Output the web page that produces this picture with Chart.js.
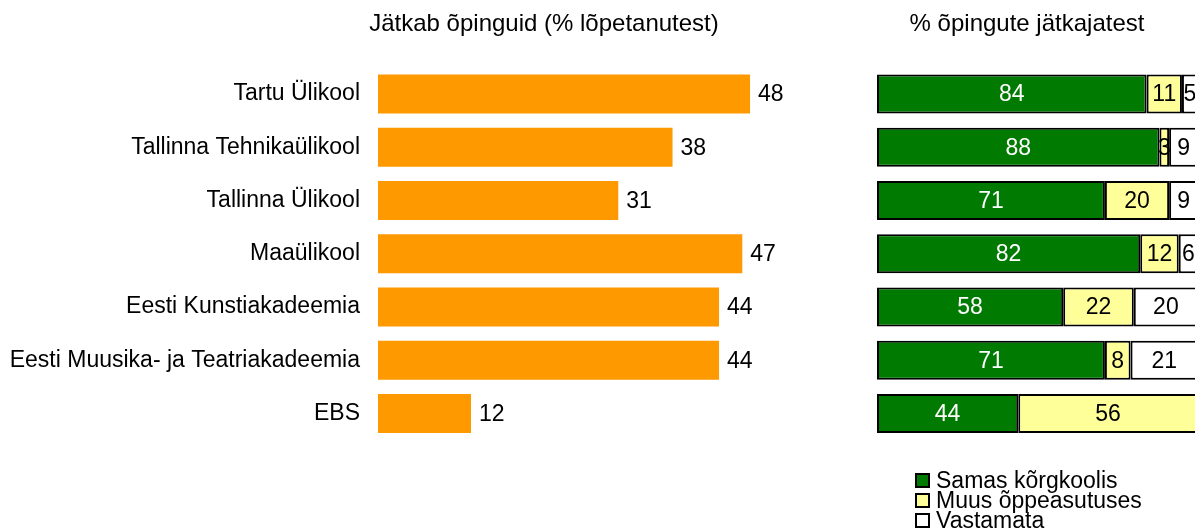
<!DOCTYPE html>
<html lang="et">
<head>
<meta charset="utf-8">
<title>Õpingute jätkamine</title>
<script src="https://cdn.jsdelivr.net/npm/chart.js@4.4.0/dist/chart.umd.min.js"></script>
<style>
  html, body { margin: 0; padding: 0; background: #fff; }
  #leht { position: relative; width: 1195px; height: 532px; overflow: hidden; font-family: "Liberation Sans", Arial, sans-serif; }
  #vasak { position: absolute; left: 0; top: 0; width: 1088px; height: 532px; }
  #parem { position: absolute; left: 856px; top: 0; width: 342px; height: 532px; }
  #legend { position: absolute; left: 915px; top: 470px; }
  #legend ul { list-style: none; margin: 0; padding: 0; }
  #legend li { display: flex; align-items: center; height: 20px; font-size: 23px; color: #000; white-space: nowrap; }
  #legend li span { display: inline-block; width: 11px; height: 11px; border: 2px solid #000; margin-right: 6px; }
</style>
</head>
<body>
<div id="leht">
  <div id="vasak"><canvas id="graafikJatkab"></canvas></div>
  <div id="parem"><canvas id="graafikKus"></canvas></div>
  <div id="legend"></div>
</div>
<script>
// ====================================================================
// ANDMED
// ====================================================================
const korgkoolid = [
    'Tartu Ülikool',
    'Tallinna Tehnikaülikool',
    'Tallinna Ülikool',
    'Maaülikool',
    'Eesti Kunstiakadeemia',
    'Eesti Muusika- ja Teatriakadeemia',
    'EBS'
];

// Jätkab õpinguid (% lõpetanutest)
const jatkab = [48, 38, 31, 47, 44, 44, 12];

// % õpingute jätkajatest
const samasKorgkoolis = [84, 88, 71, 82, 58, 71, 44];
const muusOppeasutuses = [11, 3, 20, 12, 22, 8, 56];
const vastamata = [5, 9, 9, 6, 20, 21, 0];

const FONT = '"Liberation Sans", Arial, sans-serif';
Chart.defaults.font.family = FONT;
Chart.defaults.color = '#000';

// Väärtuste kirjutamine tulpadele (datalabels pluginat pole)
const vaartusedPlugin = {
    id: 'vaartused',
    afterDatasetsDraw(chart) {
        const ctx = chart.ctx;
        ctx.save();
        ctx.font = '23px ' + FONT;
        ctx.textBaseline = 'middle';
        chart.data.datasets.forEach((ds, i) => {
            const meta = chart.getDatasetMeta(i);
            if (meta.hidden) return;
            meta.data.forEach((bar, j) => {
                const v = ds.data[j];
                if (!v) return;
                ctx.fillStyle = ds.sildiVarv || '#000';
                if (ds.siltKeskel) {
                    ctx.textAlign = 'center';
                    ctx.fillText(v, (bar.x + bar.base) / 2, bar.y + 1);
                } else {
                    ctx.textAlign = 'left';
                    ctx.fillText(v, bar.x + 8, bar.y + 1);
                }
            });
        });
        ctx.restore();
    }
};

// HTML legend parema graafiku jaoks
const htmlLegendPlugin = {
    id: 'htmlLegend',
    afterUpdate(chart) {
        const konteiner = document.getElementById('legend');
        konteiner.innerHTML = '';
        const ul = document.createElement('ul');
        const items = chart.options.plugins.legend.labels.generateLabels(chart);
        items.forEach(item => {
            const li = document.createElement('li');
            const kast = document.createElement('span');
            kast.style.background = item.fillStyle;
            li.appendChild(kast);
            li.appendChild(document.createTextNode(item.text));
            ul.appendChild(li);
        });
        konteiner.appendChild(ul);
    }
};

function pealkiri(tekst) {
    return {
        display: true,
        text: tekst,
        color: '#000',
        font: { size: 24, weight: 'normal' },
        padding: { top: 10, bottom: 28.6 }
    };
}

// ====================================================================
// VASAK GRAAFIK - Jätkab õpinguid
// ====================================================================
new Chart(document.getElementById('graafikJatkab'), {
    type: 'bar',
    data: {
        labels: korgkoolid,
        datasets: [{
            label: 'Jätkab õpinguid',
            data: jatkab,
            backgroundColor: '#FF9900',
            borderWidth: 0,
            categoryPercentage: 0.733,
            barPercentage: 1
        }]
    },
    options: {
        indexAxis: 'y',
        responsive: true,
        maintainAspectRatio: false,
        animation: false,
        layout: { padding: { left: 0, right: 0, top: 0, bottom: 92 } },
        plugins: {
            legend: { display: false },
            tooltip: { enabled: false },
            title: pealkiri('Jätkab õpinguid (% lõpetanutest)')
        },
        scales: {
            x: { display: false, min: 0, max: 91.6 },
            y: {
                grid: { display: false },
                border: { display: false },
                ticks: { padding: 10, color: '#000', font: { size: 23 } },
                afterFit(scale) { scale.width = 378; }
            }
        }
    },
    plugins: [vaartusedPlugin]
});

// ====================================================================
// PAREM GRAAFIK - % õpingute jätkajatest
// ====================================================================
new Chart(document.getElementById('graafikKus'), {
    type: 'bar',
    data: {
        labels: korgkoolid,
        datasets: [
            {
                label: 'Samas kõrgkoolis',
                data: samasKorgkoolis,
                backgroundColor: '#007A00',
                sildiVarv: '#fff',
                siltKeskel: true
            },
            {
                label: 'Muus õppeasutuses',
                data: muusOppeasutuses,
                backgroundColor: '#FFFF99',
                sildiVarv: '#000',
                siltKeskel: true
            },
            {
                label: 'Vastamata',
                data: vastamata,
                backgroundColor: '#FFFFFF',
                sildiVarv: '#000',
                siltKeskel: true
            }
        ]
    },
    options: {
        indexAxis: 'y',
        responsive: true,
        maintainAspectRatio: false,
        animation: false,
        layout: { padding: { left: 0, right: 0, top: 0, bottom: 92 } },
        datasets: {
            bar: {
                borderColor: '#000',
                borderWidth: 2,
                borderSkipped: false,
                categoryPercentage: 0.733,
                barPercentage: 1
            }
        },
        plugins: {
            legend: { display: false },
            tooltip: { enabled: false },
            title: pealkiri('% õpingute jätkajatest')
        },
        scales: {
            x: { display: false, stacked: true, min: 0, max: 100 },
            y: {
                stacked: true,
                grid: { display: false },
                border: { display: false },
                ticks: { display: false },
                afterFit(scale) { scale.width = 21; }
            }
        }
    },
    plugins: [vaartusedPlugin, htmlLegendPlugin]
});
</script>
</body>
</html>
